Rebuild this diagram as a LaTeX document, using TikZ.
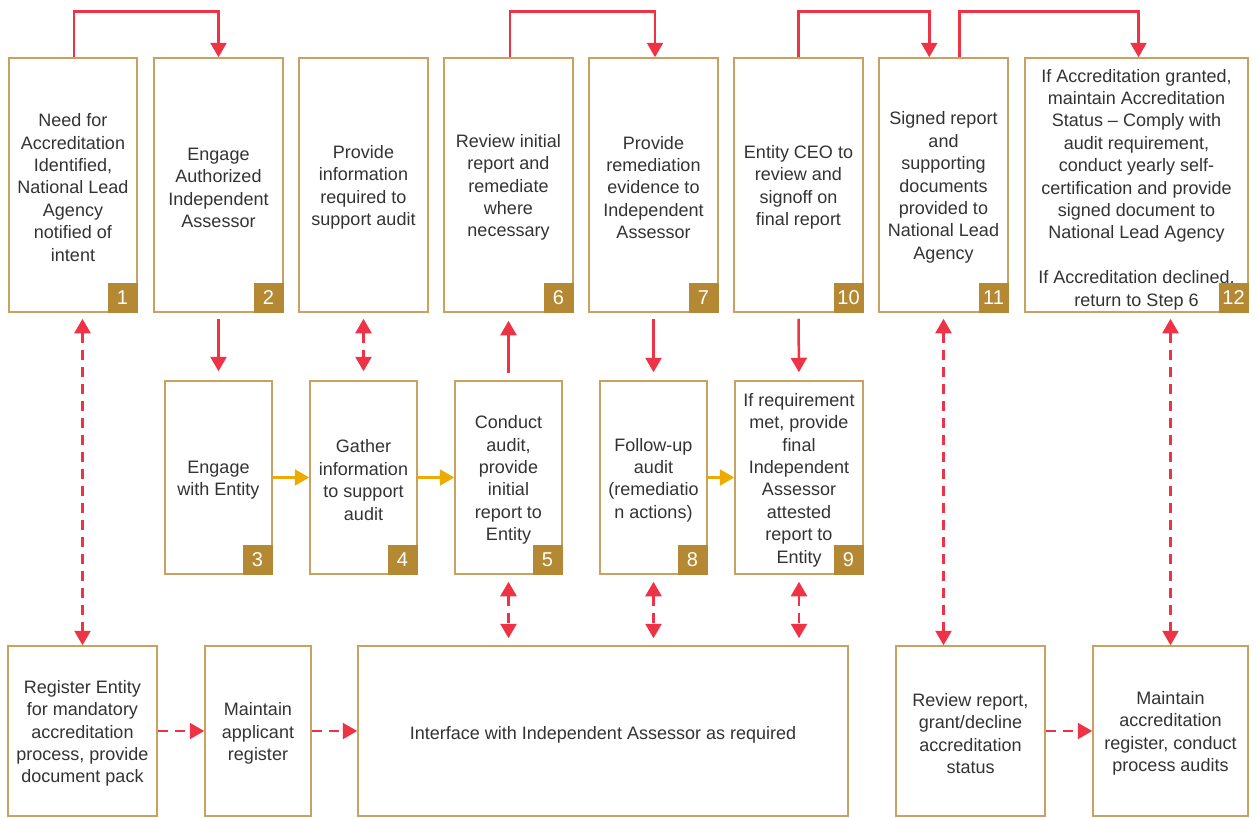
\documentclass[tikz,border=0pt]{standalone}
\usepackage{fontspec}
\setmainfont{Liberation Sans}
\usetikzlibrary{arrows.meta,calc}
\definecolor{myred}{HTML}{EF3346}
\definecolor{myorange}{HTML}{EFAA00}
\definecolor{myborder}{HTML}{C9A262}
\definecolor{mynum}{HTML}{B58934}
\definecolor{mytext}{HTML}{333333}
\newcommand{\tstrut}{\rule{0pt}{18pt}}
\begin{document}
\begin{tikzpicture}[x=1pt,y=-1pt,
  box/.style={draw=myborder, line width=1.5pt, fill=white, inner sep=0pt, align=center, text=mytext, font=\fontsize{18}{22.4}\selectfont},
  topbox/.style={box, minimum width=129pt, minimum height=254pt},
  midbox/.style={box, minimum width=107pt, minimum height=193pt},
  botbox/.style={box, minimum height=170pt},
  num/.style={fill=mynum, text=white, minimum size=30pt, inner sep=0pt, font=\fontsize{20}{20}\selectfont, anchor=south east},
  redarr/.style={draw=myred, line width=2.5pt, -{Triangle[length=14.5pt,width=16pt]}},
  reddash/.style={redarr, dash pattern=on 10pt off 7pt},
  reddbl/.style={draw=myred, line width=2.5pt, dash pattern=on 10pt off 7pt, {Triangle[length=14.5pt,width=16pt]}-{Triangle[length=14.5pt,width=16pt]}},
  orarr/.style={draw=myorange, line width=2.5pt, -{Triangle[length=14.5pt,width=16pt]}}
]
\useasboundingbox (0,0) rectangle (1258,817);
% top row
\node[topbox, minimum width=128pt] (b1) at (73,185) {\tstrut Need for\\Accreditation\\Identified,\\National Lead\\Agency\\notified of\\intent};
\node[topbox] (b2) at (218.5,185) {\tstrut Engage\\Authorized\\Independent\\Assessor};
\node[topbox] (bp) at (363.5,185) {\tstrut Provide\\information\\required to\\support audit};
\node[topbox] (b6) at (508.5,185) {\tstrut Review initial\\report and\\remediate\\where\\necessary};
\node[topbox] (b7) at (653.5,185) {\tstrut Provide\\remediation\\evidence to\\Independent\\Assessor};
\node[topbox] (b10) at (798.5,185) {\tstrut Entity CEO to\\review and\\signoff on\\final report};
\node[topbox] (b11) at (943.5,185) {\tstrut Signed report\\and\\supporting\\documents\\provided to\\National Lead\\Agency};
\node[topbox, minimum width=223pt] (b12) at (1136.5,185) {\rule{0pt}{22pt}If Accreditation granted,\\maintain Accreditation\\Status -- Comply with\\audit requirement,\\conduct yearly self-\\certification and provide\\signed document to\\National Lead Agency\\[22.4pt]If Accreditation declined,\\return to Step 6};
% middle row
\node[midbox] (b3) at (218.5,477.5) {\tstrut Engage\\with Entity};
\node[midbox] (b4) at (363.5,477.5) {\tstrut Gather\\information\\to support\\audit};
\node[midbox] (b5) at (508.5,477.5) {\tstrut Conduct\\audit,\\provide\\initial\\report to\\Entity};
\node[midbox] (b8) at (653.5,477.5) {\tstrut Follow-up\\audit\\(remediatio\\n actions)};
\node[midbox, minimum width=128pt] (b9) at (799,477.5) {\tstrut If requirement\\met, provide\\final\\Independent\\Assessor\\attested\\report to\\Entity};
% bottom row
\node[botbox, minimum width=149pt] (r1) at (82.5,731) {\tstrut Register Entity\\for mandatory\\accreditation\\process, provide\\document pack};
\node[botbox, minimum width=106pt] (r2) at (258,731) {\tstrut Maintain\\applicant\\register};
\node[botbox, minimum width=490pt] (r3) at (603,731) {\rule{0pt}{20pt}Interface with Independent Assessor as required};
\node[botbox, minimum width=149pt] (r4) at (970.5,731) {\tstrut Review report,\\grant/decline\\accreditation\\status};
\node[botbox, minimum width=155pt] (r5) at (1170.5,731) {\tstrut Maintain\\accreditation\\register, conduct\\process audits};
% number tags
\foreach \b/\n in {b1/1,b2/2,b6/6,b7/7,b10/10,b11/11,b12/12,b3/3,b4/4,b5/5,b8/8,b9/9}
  \node[num] (n\n) at (\b.south east) {\n};
% top connectors
\draw[redarr] ([xshift=1pt]b1.north) -- ++(0,-46) -| (b2.north);
\draw[redarr] ([xshift=1.5pt]b6.north) -- ++(0,-46) -| ([xshift=1.5pt]b7.north);
\draw[redarr] (b10.north) -- ++(0,-46) -| ([xshift=51pt]b11.north west);
\draw[redarr] ([xshift=81pt]b11.north west) -- ++(0,-46) -| ([xshift=2pt]b12.north);
% vertical connectors
\draw[redarr, shorten <=6pt, shorten >=9pt] (b2.south) -- (b3.north);
\draw[reddbl, shorten <=6pt, shorten >=9pt] (bp.south) -- (b4.north);
\draw[redarr, shorten <=7pt, shorten >=8pt] (b5.north) -- (b6.south);
\draw[redarr, shorten <=6pt, shorten >=8pt] (b7.south) -- (b8.north);
\draw[redarr, shorten <=6pt, shorten >=8pt] (b10.south) -- (b9.north);
\draw[reddbl, shorten <=6pt] (b1.south -| r1.north) -- (r1.north);
\draw[reddbl, shorten <=6pt] (b11.south) -- (b11.south |- r4.north);
\draw[reddbl, shorten <=6pt] (r5.north |- b12.south) -- (r5.north);
\draw[reddbl, shorten <=7pt, shorten >=7pt] (b5.south) -- (b5.south |- r3.north);
\draw[reddbl, shorten <=7pt, shorten >=7pt] (b8.south) -- (b8.south |- r3.north);
\draw[reddbl, shorten <=7pt, shorten >=7pt] (b9.south) -- (b9.south |- r3.north);
% horizontal connectors
\draw[orarr] (b3.east) -- (b4.west);
\draw[orarr] (b4.east) -- (b5.west);
\draw[orarr] (b8.east) -- (b9.west);
\draw[reddash] (r1.east) -- (r2.west);
\draw[reddash] (r2.east) -- (r3.west);
\draw[reddash] (r4.east) -- (r5.west);
\end{tikzpicture}
\end{document}
